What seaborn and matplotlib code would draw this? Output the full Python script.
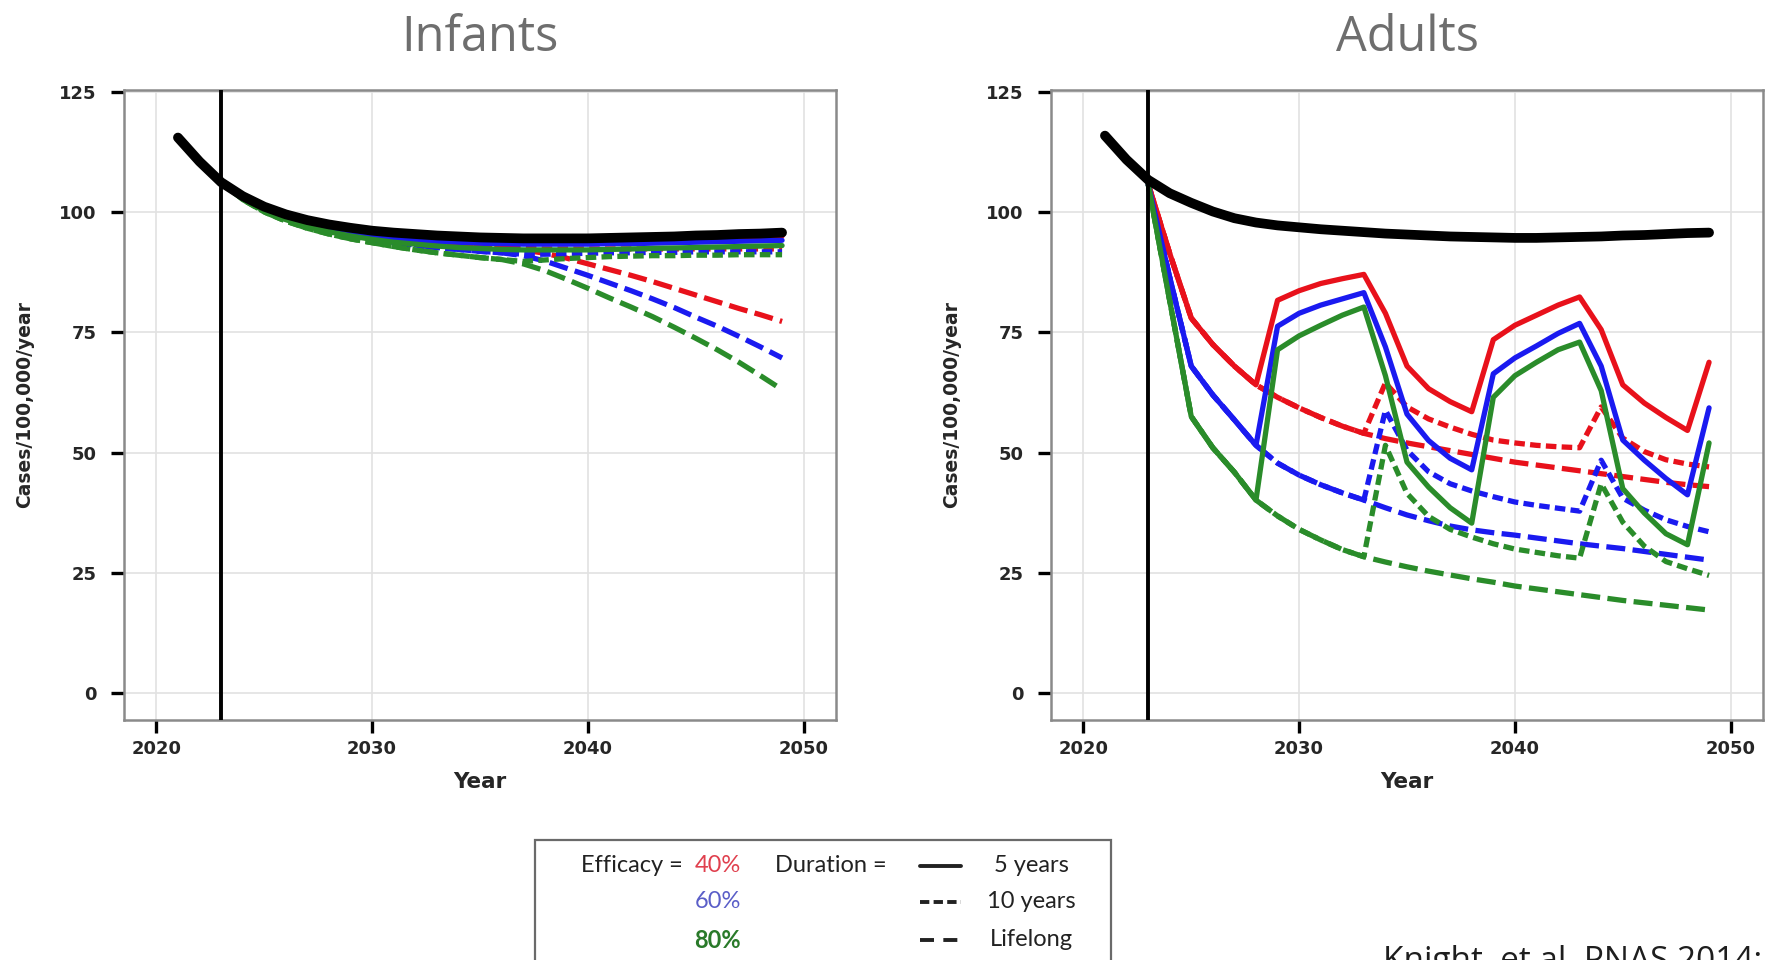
import matplotlib
matplotlib.use("Agg")
import matplotlib.pyplot as plt
from matplotlib.lines import Line2D
from matplotlib.patches import Rectangle
import pandas as pd
import seaborn as sns

# ---------------- data ----------------
BASE_YEARS = list(range(2021, 2050))
VAX_YEARS = list(range(2023, 2050))
VACCINE_YEAR = 2023

EFFICACIES = ["40%", "60%", "80%"]
DURATIONS = ["5 years", "10 years", "Lifelong"]
X_TICKS = [2020, 2030, 2040, 2050]
Y_TICKS = [0, 25, 50, 75, 100, 125]
PANEL_TITLES = ["Infants", "Adults"]

# Infants panel
inf_black = [115.6, 110.6, 106.3, 103.4, 101.2, 99.6, 98.4, 97.5, 96.8, 96.2, 95.8, 95.5, 95.2, 95.0,
             94.8, 94.7, 94.6, 94.6, 94.6, 94.6, 94.7, 94.8, 94.9, 95.0, 95.2, 95.3, 95.5, 95.6, 95.8]
inf_red_5 = [106.3, 103.2, 100.9, 99.3, 98.1, 97.1, 96.4, 95.8, 95.3, 95.0, 94.7, 94.5, 94.3, 94.2,
             94.1, 94.1, 94.1, 94.1, 94.2, 94.3, 94.4, 94.5, 94.6, 94.7, 94.8, 95.0, 95.1]
inf_blue_5 = [106.3, 103.0, 100.6, 98.9, 97.6, 96.6, 95.8, 95.2, 94.7, 94.3, 94.0, 93.8, 93.6, 93.5,
              93.4, 93.4, 93.4, 93.4, 93.5, 93.5, 93.6, 93.7, 93.8, 93.9, 94.0, 94.1, 94.2]
inf_green_5 = [106.3, 102.8, 100.3, 98.5, 97.1, 96.0, 95.1, 94.4, 93.8, 93.4, 93.0, 92.7, 92.5, 92.3,
               92.2, 92.2, 92.2, 92.2, 92.3, 92.4, 92.5, 92.6, 92.7, 92.8, 92.9, 93.0, 93.1]
inf_red_10 = [106.3, 103.1, 100.7, 99.0, 97.7, 96.7, 95.9, 95.2, 94.6, 94.1, 93.7, 93.3, 93.0, 92.7,
              92.5, 92.4, 92.4, 92.4, 92.4, 92.4, 92.4, 92.4, 92.4, 92.4, 92.4, 92.4, 92.4]
inf_blue_10 = [106.3, 102.9, 100.4, 98.6, 97.2, 96.1, 95.2, 94.5, 93.8, 93.2, 92.7, 92.3, 91.9, 91.6,
               91.3, 91.3, 91.4, 91.5, 91.6, 91.6, 91.7, 91.7, 91.8, 91.8, 91.8, 91.8, 91.8]
inf_green_10 = [106.3, 102.7, 100.1, 98.2, 96.7, 95.5, 94.5, 93.7, 92.9, 92.2, 91.6, 91.1, 90.6, 90.2,
                89.8, 90.1, 90.4, 90.6, 90.8, 90.9, 91.0, 91.0, 91.1, 91.1, 91.2, 91.2, 91.2]
inf_red_life = [106.3, 103.1, 100.7, 99.0, 97.7, 96.7, 95.9, 95.2, 94.6, 94.1, 93.7, 93.3, 93.0, 92.7,
                92.2, 91.5, 90.5, 89.3, 88.1, 86.9, 85.6, 84.2, 82.8, 81.4, 80.0, 78.7, 77.3]
inf_blue_life = [106.3, 102.9, 100.4, 98.6, 97.2, 96.1, 95.2, 94.5, 93.8, 93.2, 92.7, 92.3, 91.9, 91.6,
                 91.0, 89.9, 88.4, 86.9, 85.3, 83.7, 82.0, 80.2, 78.2, 76.3, 74.2, 72.0, 69.7]
inf_green_life = [106.3, 102.7, 100.1, 98.2, 96.7, 95.5, 94.5, 93.7, 92.9, 92.2, 91.6, 91.1, 90.6, 90.2,
                  89.3, 87.9, 86.1, 84.2, 82.2, 80.3, 78.3, 76.1, 73.8, 71.4, 68.8, 66.0, 63.1]

# Adults panel
ad_black = [116.0, 111.0, 106.8, 104.0, 102.0, 100.2, 98.8, 97.9, 97.3, 96.9, 96.5, 96.2, 95.9, 95.6,
            95.4, 95.2, 95.0, 94.9, 94.8, 94.7, 94.7, 94.8, 94.9, 95.0, 95.2, 95.3, 95.5, 95.7, 95.8]
ad_red_5 = [106.0, 91.5, 78.0, 72.5, 68.0, 64.1, 81.7, 83.7, 85.2, 86.2, 87.1, 79.0, 68.0, 63.3,
            60.6, 58.5, 73.5, 76.5, 78.6, 80.7, 82.4, 75.6, 64.1, 60.3, 57.3, 54.6, 68.8]
ad_blue_5 = [106.0, 86.5, 68.0, 62.0, 56.8, 51.5, 76.3, 79.0, 80.7, 82.0, 83.3, 72.0, 58.0, 52.5,
             48.8, 46.4, 66.4, 69.7, 72.2, 74.8, 76.9, 68.0, 52.6, 48.4, 44.6, 41.2, 59.3]
ad_green_5 = [106.0, 81.7, 57.5, 51.0, 45.9, 40.1, 71.4, 74.3, 76.5, 78.6, 80.3, 66.0, 48.0, 42.8,
              38.5, 35.3, 61.5, 66.0, 68.8, 71.4, 73.0, 62.9, 42.5, 37.4, 33.1, 30.8, 52.0]
ad_red_10 = [106.0, 91.5, 78.0, 72.5, 68.0, 64.1, 61.5, 59.3, 57.3, 55.5, 54.0, 64.5, 59.5, 57.0,
             55.3, 53.8, 52.6, 52.0, 51.5, 51.2, 51.0, 59.5, 53.0, 50.2, 48.5, 47.6, 47.0]
ad_blue_10 = [106.0, 86.5, 68.0, 62.0, 56.8, 51.5, 47.8, 45.3, 43.3, 41.6, 40.1, 58.8, 50.5, 46.0,
              43.5, 42.0, 40.8, 39.7, 39.0, 38.4, 37.8, 48.4, 40.5, 38.0, 36.0, 34.6, 33.5]
ad_green_10 = [106.0, 81.7, 57.5, 51.0, 45.9, 40.1, 36.8, 34.0, 31.8, 29.8, 28.3, 51.5, 41.5, 36.7,
               34.0, 32.4, 31.0, 29.9, 29.2, 28.5, 28.0, 43.5, 35.5, 30.5, 27.3, 25.8, 24.4]
ad_red_life = [106.0, 91.5, 78.0, 72.5, 68.0, 64.1, 61.5, 59.3, 57.3, 55.5, 54.0, 52.9, 52.0, 51.2,
               50.4, 49.6, 48.8, 48.0, 47.4, 46.8, 46.2, 45.6, 45.0, 44.4, 43.8, 43.3, 42.9]
ad_blue_life = [106.0, 86.5, 68.0, 62.0, 56.8, 51.5, 47.8, 45.3, 43.3, 41.6, 40.1, 38.5, 37.0, 35.8,
                34.7, 33.9, 33.3, 32.8, 32.2, 31.6, 31.0, 30.5, 30.0, 29.4, 28.8, 28.2, 27.6]
ad_green_life = [106.0, 81.7, 57.5, 51.0, 45.9, 40.1, 36.8, 34.0, 31.8, 29.8, 28.3, 27.2, 26.2, 25.3,
                 24.5, 23.7, 23.0, 22.2, 21.6, 21.0, 20.4, 19.8, 19.2, 18.7, 18.2, 17.7, 17.2]

PANELS = {
    "Infants": {
        "baseline": inf_black,
        ("40%", "5 years"): inf_red_5, ("60%", "5 years"): inf_blue_5, ("80%", "5 years"): inf_green_5,
        ("40%", "10 years"): inf_red_10, ("60%", "10 years"): inf_blue_10, ("80%", "10 years"): inf_green_10,
        ("40%", "Lifelong"): inf_red_life, ("60%", "Lifelong"): inf_blue_life, ("80%", "Lifelong"): inf_green_life,
    },
    "Adults": {
        "baseline": ad_black,
        ("40%", "5 years"): ad_red_5, ("60%", "5 years"): ad_blue_5, ("80%", "5 years"): ad_green_5,
        ("40%", "10 years"): ad_red_10, ("60%", "10 years"): ad_blue_10, ("80%", "10 years"): ad_green_10,
        ("40%", "Lifelong"): ad_red_life, ("60%", "Lifelong"): ad_blue_life, ("80%", "Lifelong"): ad_green_life,
    },
}

# ---------------- style ----------------
RED, BLUE, GREEN = "#E8111B", "#1A1AF0", "#2A8C2A"
PALETTE = {"40%": RED, "60%": BLUE, "80%": GREEN}
DASHES = {"5 years": "", "10 years": (2.0, 1.0), "Lifelong": (3.6, 1.4)}
LEG_TXT_COLORS = {"40%": "#E0404E", "60%": "#5A5EC8", "80%": "#2A7A2A"}

sns.set_theme(style="whitegrid")
plt.rcParams["font.family"] = ["DejaVu Sans"]
plt.rcParams["grid.color"] = "#E2E2E2"
plt.rcParams["grid.linewidth"] = 1.2

fig = plt.figure(figsize=(17.69, 9.60), dpi=100)
fig.patch.set_facecolor("white")
ax_left = fig.add_axes([124 / 1769, 1 - 720 / 960, 712 / 1769, 630 / 960])
ax_right = fig.add_axes([1051 / 1769, 1 - 720 / 960, 712 / 1769, 630 / 960])

for ax, name in zip([ax_left, ax_right], PANEL_TITLES):
    pdata = PANELS[name]
    rows = []
    for eff in EFFICACIES:
        for dur in DURATIONS:
            for yr, v in zip(VAX_YEARS, pdata[(eff, dur)]):
                rows.append({"Year": yr, "Cases": v, "Efficacy": eff, "Duration": dur})
    df = pd.DataFrame(rows)

    for dur in ["Lifelong", "10 years", "5 years"]:
        sub = df[df["Duration"] == dur]
        sns.lineplot(data=sub, x="Year", y="Cases", hue="Efficacy", style="Duration",
                     hue_order=EFFICACIES, palette=PALETTE, dashes={dur: DASHES[dur]},
                     linewidth=3.8, estimator=None, errorbar=None, sort=False,
                     legend=False, ax=ax, zorder=3)

    base_df = pd.DataFrame({"Year": BASE_YEARS, "Cases": pdata["baseline"]})
    sns.lineplot(data=base_df, x="Year", y="Cases", color="black", linewidth=7.0,
                 estimator=None, errorbar=None, ax=ax, zorder=5, legend=False)
    ax.axvline(VACCINE_YEAR, color="black", linewidth=2.8, zorder=6)

    ax.set_xlim(2018.5, 2051.5)
    ax.set_ylim(-5.7, 125.5)
    ax.set_xticks(X_TICKS)
    ax.set_yticks(Y_TICKS)
    ax.set_xticklabels([str(t) for t in X_TICKS], fontweight="bold", fontsize=13)
    ax.set_yticklabels([str(t) for t in Y_TICKS], fontweight="bold", fontsize=13)
    ax.tick_params(axis="both", direction="out", length=9.5, width=2.4, color="black",
                   left=True, bottom=True)
    ax.tick_params(axis="y", pad=10)
    ax.tick_params(axis="x", pad=5)
    ax.grid(True, color="#E2E2E2", linewidth=1.2)
    for sp in ax.spines.values():
        sp.set_visible(True)
        sp.set_color("#8A8A8A")
        sp.set_linewidth(1.8)
    ax.set_facecolor("white")

    ax.set_xlabel("Year", fontweight="bold", fontsize=15.5)
    ax.set_ylabel("Cases/100,000/year", fontweight="bold", fontsize=13.5)
    ax.xaxis.set_label_coords(0.5, -0.082)
    ax.yaxis.set_label_coords(-0.126, 0.5)

    ax.text(0.5, 1 + 52 / 630, name, transform=ax.transAxes, ha="center", va="center",
            fontsize=35, color="#6E6E6E", family=["Open Sans", "DejaVu Sans"])

# ---------------- legend box (drawn as figure annotations) ----------------
W, H = 1769.0, 960.0
def fx(px):
    return px / W
def fy(py):
    return 1 - py / H

fig.patches.append(Rectangle((fx(535), fy(1000)), (1111 - 535) / W, (1000 - 840) / H,
                             transform=fig.transFigure, fill=False, edgecolor="#6A6A6A",
                             linewidth=1.6, clip_on=False))
leg_font = ["Lato", "DejaVu Sans"]
LEG_FS = 17
row_y = [866, 902, 940]
fig.text(fx(683), fy(row_y[0]), "Efficacy =", ha="right", va="center", fontsize=LEG_FS,
         color="#222222", family=leg_font)
for eff, yy in zip(EFFICACIES, row_y):
    fig.text(fx(741), fy(yy), eff, ha="right", va="center", fontsize=LEG_FS,
             color=LEG_TXT_COLORS[eff], family=leg_font,
             fontweight="bold" if eff == "80%" else "normal")
fig.text(fx(775), fy(row_y[0]), "Duration =", ha="left", va="center", fontsize=LEG_FS,
         color="#222222", family=leg_font)
for dur, yy in zip(DURATIONS, row_y):
    ln = Line2D([fx(920), fx(961)], [fy(yy), fy(yy)], transform=fig.transFigure,
                color="#222222", linewidth=2.8)
    if DASHES[dur]:
        ln.set_dashes((2.4, 1.1) if dur == "10 years" else (3.6, 2.4))
    fig.lines.append(ln)
    fig.text(fx(1031), fy(yy), dur, ha="center", va="center", fontsize=LEG_FS,
             color="#222222", family=leg_font)

fig.text(fx(1383), fy(945), "Knight, et al. PNAS 2014;", ha="left", va="top", fontsize=24,
         color="#1E1E1E", family=["Open Sans", "DejaVu Sans"])

fig.savefig("out.png", dpi=100, facecolor="white")
